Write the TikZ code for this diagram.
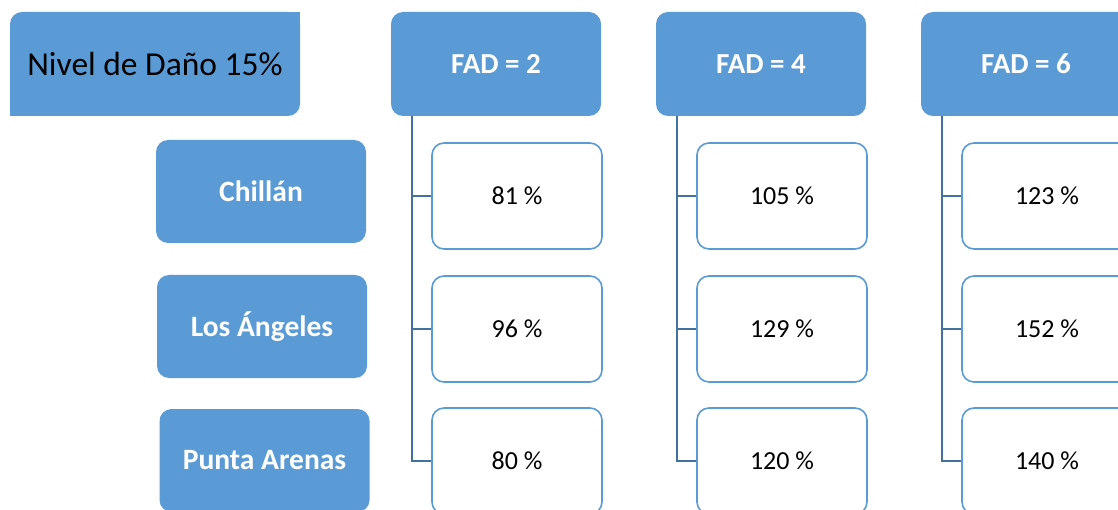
\documentclass[tikz,border=0pt]{standalone}
\usepackage{fontspec}
\setmainfont{Carlito}
\usetikzlibrary{positioning}
\definecolor{cBox}{RGB}{91,155,213}
\definecolor{cLink}{RGB}{65,113,156}

\begin{document}
\begin{tikzpicture}[x=1pt,y=-1pt,
   head/.style={fill=cBox,rounded corners=12pt,minimum width=210pt,minimum height=104pt,inner sep=0pt,text=white,font=\fontsize{29}{34}\selectfont\bfseries},
   city/.style={head,minimum height=103pt,font=\fontsize{29.5}{35}\selectfont\bfseries},
   val/.style={draw=cBox,line width=1.6pt,fill=white,rounded corners=12pt,minimum width=170pt,minimum height=106pt,inner sep=0pt,font=\fontsize{26}{31}\selectfont},
   link/.style={draw=cLink,line width=1.4pt}]
  \useasboundingbox (0,0) rectangle (1118,510);
  \clip (0,0) rectangle (1118,510);
  % damage level box, two square corners
  \node[head,minimum width=290pt,text=black,font=\fontsize{33.5}{40}\selectfont] (lvl) at (155,64) {Nivel de Daño 15\%};
  \fill[cBox] (lvl.north east) rectangle ++(-14,14);
  \fill[cBox] (lvl.south west) rectangle ++(14,-14);
  % cities
  \node[city] (c1) at (261,191.5) {Chillán};
  \node[city] (c2) at (262,326.5) {Los Ángeles};
  \node[city] (c3) at (264.5,460.5) {Punta Arenas};
  % one column per FAD
  \foreach \c/\fx/\lab/\va/\vb/\vc in {1/496/2/81/96/80, 2/761/4/105/129/120, 3/1026/6/123/152/140} {
    \node[head] (f\c) at (\fx,64) {FAD = \lab};
    \node[val] (v\c1) at (\fx+21,196) {\va\ \%};
    \node[val] (v\c2) at (\fx+21,329) {\vb\ \%};
    \node[val] (v\c3) at (\fx+21,461) {\vc\ \%};
    \draw[link] ([xshift=21pt]f\c.south west) |- (v\c3.west);
    \draw[link] ([xshift=21pt]f\c.south west |- v\c1.west) -- (v\c1.west);
    \draw[link] ([xshift=21pt]f\c.south west |- v\c2.west) -- (v\c2.west);
  }
\end{tikzpicture}
\end{document}
